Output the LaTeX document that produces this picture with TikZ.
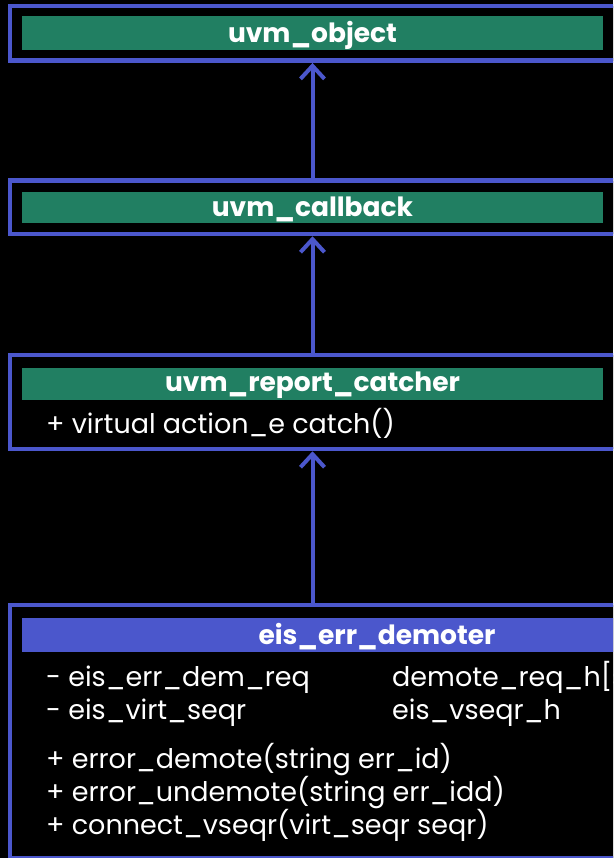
\documentclass[tikz,border=0pt]{standalone}
\usepackage{fontspec}
\setmainfont{Poppins}
\usetikzlibrary{arrows.meta}
\definecolor{umlblue}{HTML}{4B57CC}
\definecolor{umlgreen}{HTML}{217F62}
\tikzset{
  x=1pt, y=-1pt,
  classbox/.style={draw=umlblue, line width=4.5pt, fill=black, rectangle, inner sep=0pt},
  hdrgreen/.style={fill=umlgreen, rectangle, inner sep=0pt},
  hdrblue/.style={fill=umlblue, rectangle, inner sep=0pt},
  hdrtext/.style={text=white, font=\fontsize{26.5}{30}\selectfont\bfseries, inner sep=0pt, yshift=-2pt},
  member/.style={text=white, font=\fontsize{27}{31}\selectfont, inner sep=0pt, anchor=base west},
  inherit/.style={draw=umlblue, line width=4pt, -{Straight Barb[length=13pt,width=24pt,line width=4pt]}},
}
\begin{document}
\begin{tikzpicture}
\fill[black] (0,0) rectangle (613,858);
\useasboundingbox (0,0) rectangle (613,858);
\clip (0,0) rectangle (613,858);
% uvm_object
\node[classbox, minimum width=606pt, minimum height=54.7pt] (b1) at (313,33.35) {};
\node[hdrgreen, minimum width=581pt, minimum height=34pt] (h1) at (312.5,33) {};
\node[hdrtext] (t1) at (h1.center) {uvm\_object};
% uvm_callback
\node[classbox, minimum width=606pt, minimum height=53.3pt] (b2) at (313,207.35) {};
\node[hdrgreen, minimum width=581pt, minimum height=30.7pt] (h2) at (312.5,207.35) {};
\node[hdrtext] (t2) at (h2.center) {uvm\_callback};
% uvm_report_catcher
\node[classbox, minimum width=606pt, minimum height=94pt] (b3) at (313,402) {};
\node[hdrgreen, minimum width=581pt, minimum height=32pt] (h3) at (312.5,383.7) {};
\node[hdrtext] (t3) at (h3.center) {uvm\_report\_catcher};
\node[member] (m31) at (46,433) {+ virtual action\_e catch()};
% eis_err_demoter
\node[classbox, minimum width=734pt, minimum height=253pt] (b4) at (377,731.5) {};
\node[hdrblue, minimum width=710pt, minimum height=34.6pt] (h4) at (377,635) {};
\node[hdrtext] (t4) at (h4.center) {eis\_err\_demoter};
\node[member] (m41) at (46,686) {- eis\_err\_dem\_req};
\node[member] (m42) at (46,719) {- eis\_virt\_seqr};
\node[member] (m41b) at (392,686) {demote\_req\_h[string]};
\node[member] (m42b) at (392,719) {eis\_vseqr\_h};
\node[member] (m43) at (46,768) {+ error\_demote(string err\_id)};
\node[member] (m44) at (46,801) {+ error\_undemote(string err\_idd)};
\node[member] (m45) at (46,834) {+ connect\_vseqr(virt\_seqr seqr)};
% inheritance connectors
\draw[inherit] (b2.north -| h1.center) -- (b1.south -| h1.center);
\draw[inherit] (b3.north -| h2.center) -- (b2.south -| h2.center);
\draw[inherit] (b4.north -| h3.center) -- (b3.south -| h3.center);
\end{tikzpicture}
\end{document}
